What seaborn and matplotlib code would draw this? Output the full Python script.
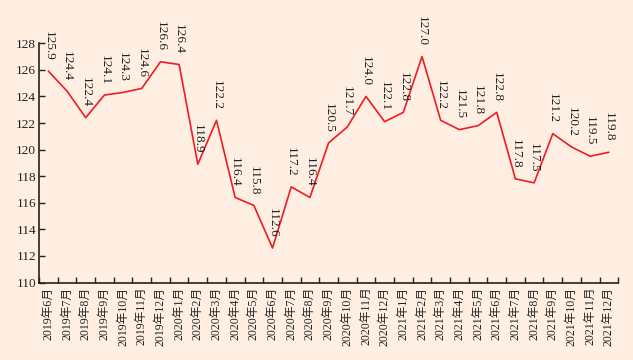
import matplotlib
matplotlib.use("Agg")
import matplotlib.pyplot as plt
import seaborn as sns
import pandas as pd
import numpy as np

months = ["2019年6月", "2019年7月", "2019年8月", "2019年9月", "2019年10月", "2019年11月", "2019年12月",
          "2020年1月", "2020年2月", "2020年3月", "2020年4月", "2020年5月", "2020年6月", "2020年7月",
          "2020年8月", "2020年9月", "2020年10月", "2020年11月", "2020年12月",
          "2021年1月", "2021年2月", "2021年3月", "2021年4月", "2021年5月", "2021年6月", "2021年7月",
          "2021年8月", "2021年9月", "2021年10月", "2021年11月", "2021年12月"]
values = [125.9, 124.4, 122.4, 124.1, 124.3, 124.6, 126.6, 126.4, 118.9, 122.2, 116.4, 115.8,
          112.6, 117.2, 116.4, 120.5, 121.7, 124.0, 122.1, 122.8, 127.0, 122.2, 121.5, 121.8,
          122.8, 117.8, 117.5, 121.2, 120.2, 119.5, 119.8]
y_ticks = [110, 112, 114, 116, 118, 120, 122, 124, 126, 128]

bg = "#FEEFE2"
sns.set_style("ticks")
plt.rcParams['font.family'] = ['Liberation Serif', 'Noto Sans CJK SC', 'DejaVu Sans']

df = pd.DataFrame({"x": np.arange(len(months)), "v": values})

fig = plt.figure(figsize=(6.33, 3.6), dpi=100, facecolor=bg)
ax = fig.add_axes([0.0616, 0.215, 0.915, 0.665])
ax.set_facecolor(bg)
sns.lineplot(data=df, x="x", y="v", ax=ax, color="#EE1C25", linewidth=1.2)

for i, v in enumerate(values):
    ax.annotate(f"{v:.1f}", (i, v), xytext=(0, 7.5), textcoords="offset points",
                rotation=270, ha="center", va="bottom", fontsize=9.5, color="#222222")

ax.set_xlim(-0.5, len(months) - 0.5)
ax.set_ylim(110, 128)
ax.set_yticks(y_ticks)
ax.set_yticklabels([str(t) for t in y_ticks], fontsize=9.5, color="#222222")
ax.set_xticks(np.arange(len(months)))
ax.set_xticklabels(months, rotation=90, fontsize=8.5, color="#222222")
ax.tick_params(axis="x", which="major", length=0, pad=3)
ax.set_xticks(np.arange(len(months) + 1) - 0.5, minor=True)
ax.tick_params(axis="x", which="minor", direction="in", length=4, width=1, color="#222222")
ax.tick_params(axis="y", direction="in", length=4, width=1, color="#222222", pad=2)
ax.set_xlabel("")
ax.set_ylabel("")
for s in ["top", "right"]:
    ax.spines[s].set_visible(False)
for s in ["left", "bottom"]:
    ax.spines[s].set_color("#222222")
    ax.spines[s].set_linewidth(1.2)

fig.savefig("out.png", dpi=100, facecolor=bg)
